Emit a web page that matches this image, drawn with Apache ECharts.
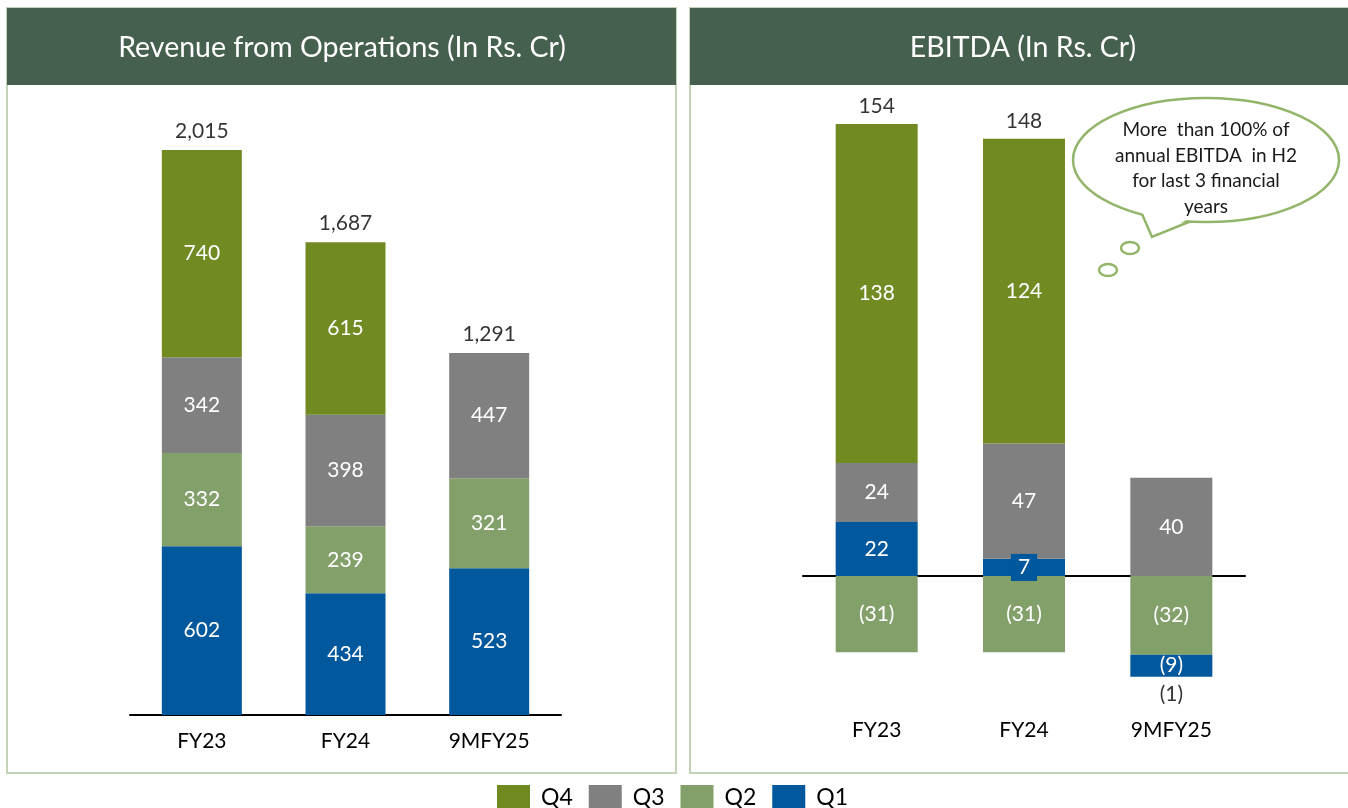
<!DOCTYPE html>
<html>
<head>
<meta charset="utf-8">
<script src="https://cdn.jsdelivr.net/npm/echarts@6/dist/echarts.min.js"></script>
<style>
html,body{margin:0;padding:0;background:#fff;}
#chart{width:1348px;height:808px;}
</style>
</head>
<body>
<div id="chart"></div>
<script>
const categories = ['FY23', 'FY24', '9MFY25'];
const quarterNames = ['Q4', 'Q3', 'Q2', 'Q1'];

// Revenue from Operations (In Rs. Cr)
const revQ1 = [602, 434, 523];
const revQ2 = [332, 239, 321];
const revQ3 = [342, 398, 447];
const revQ4 = [740, 615, null];
const revTotal = [2015, 1687, 1291];

// EBITDA (In Rs. Cr)
const ebQ1 = [22, 7, -9];
const ebQ2 = [-31, -31, -32];
const ebQ3 = [24, 47, 40];
const ebQ4 = [138, 124, null];
const ebTotal = [154, 148, -1];

const titles = ['Revenue from Operations (In Rs. Cr)', 'EBITDA (In Rs. Cr)'];
const noteLines = ['More  than 100% of', 'annual EBITDA  in H2', 'for last 3 financial', 'years'];

const colors = { Q4: '#718b22', Q3: '#808080', Q2: '#83a06b', Q1: '#02589c' };
const FONT = 'Lato';

function fmtNum(v) {
  if (v == null) return '';
  const s = Math.abs(v).toLocaleString('en-US');
  return v < 0 ? '(' + s + ')' : s;
}

function stackSeries(name, values, gridIdx, barW) {
  return {
    name: name,
    type: 'bar',
    stack: 'g' + gridIdx,
    xAxisIndex: gridIdx,
    yAxisIndex: gridIdx,
    barWidth: barW,
    itemStyle: { color: colors[name] },
    label: {
      show: true,
      position: 'inside',
      color: '#fff',
      fontFamily: FONT,
      fontSize: 21,
      formatter: p => fmtNum(p.value)
    },
    data: values.map(v => {
      if (v == null) return null;
      if (gridIdx === 1 && v > 0 && v < 10) {
        return { value: v, label: { backgroundColor: colors[name], padding: [3, 7, 3, 7] } };
      }
      return v;
    })
  };
}

const series = [];
[['Q1', revQ1], ['Q2', revQ2], ['Q3', revQ3], ['Q4', revQ4]].forEach(([n, d]) => series.push(stackSeries(n, d, 0, 80)));
// Q2 first so it sits right below zero; Q1 stays the first positive segment
[['Q2', ebQ2], ['Q1', ebQ1], ['Q3', ebQ3], ['Q4', ebQ4]].forEach(([n, d]) => series.push(stackSeries(n, d, 1, 82)));

// total labels
series.push({
  type: 'scatter', xAxisIndex: 0, yAxisIndex: 0, symbolSize: 0, silent: true,
  label: { show: true, position: 'top', distance: 8, color: '#000', fontFamily: FONT, fontSize: 21,
    formatter: p => fmtNum(p.value) },
  data: revTotal
});
const ebPos = categories.map((c, i) => [ebQ1, ebQ2, ebQ3, ebQ4].reduce((s, a) => s + (a[i] > 0 ? a[i] : 0), 0));
const ebNeg = categories.map((c, i) => [ebQ1, ebQ2, ebQ3, ebQ4].reduce((s, a) => s + (a[i] < 0 ? a[i] : 0), 0));
series.push({
  type: 'scatter', xAxisIndex: 1, yAxisIndex: 1, symbolSize: 0, silent: true,
  label: { show: true, color: '#000', fontFamily: FONT, fontSize: 21, formatter: p => p.data.txt },
  data: ebTotal.map((t, i) => ({
    value: t >= 0 ? ebPos[i] : ebNeg[i],
    txt: fmtNum(t),
    label: { position: t >= 0 ? 'top' : 'bottom', distance: 7 }
  }))
});

const graphics = [
  { type: 'rect', shape: { x: 7, y: 8, width: 669, height: 765 }, style: { fill: 'none', stroke: '#c3d3b5', lineWidth: 2 }, z: -10 },
  { type: 'rect', shape: { x: 690, y: 8, width: 662, height: 765 }, style: { fill: 'none', stroke: '#c3d3b5', lineWidth: 2 }, z: -10 },
  { type: 'rect', shape: { x: 7, y: 8, width: 669, height: 77 }, style: { fill: '#466050' } },
  { type: 'rect', shape: { x: 690, y: 8, width: 662, height: 77 }, style: { fill: '#466050' } },
  { type: 'text', x: 342, y: 48, style: { text: titles[0], fill: '#fff', font: '28.5px ' + FONT, textAlign: 'center', textVerticalAlign: 'middle' } },
  { type: 'text', x: 1023, y: 48, style: { text: titles[1], fill: '#fff', font: '28.5px ' + FONT, textAlign: 'center', textVerticalAlign: 'middle' } },
  // thought bubble
  { type: 'ellipse', shape: { cx: 1206, cy: 160, rx: 133, ry: 62 }, style: { fill: '#fff', stroke: '#93b56a', lineWidth: 2.5 }, z: 20 },
  { type: 'polygon', shape: { points: [[1140, 209], [1152, 236], [1193, 217]] }, style: { fill: '#fff' }, z: 21 },
  { type: 'polyline', shape: { points: [[1142, 214], [1152, 237], [1190, 221.5]] }, style: { stroke: '#93b56a', lineWidth: 2.5, fill: null }, z: 22 },
  { type: 'ellipse', shape: { cx: 1130, cy: 248, rx: 9, ry: 6 }, style: { fill: '#fff', stroke: '#93b56a', lineWidth: 2.5 }, z: 20 },
  { type: 'ellipse', shape: { cx: 1108, cy: 270, rx: 9, ry: 6 }, style: { fill: '#fff', stroke: '#93b56a', lineWidth: 2.5 }, z: 20 }
];
const noteY = [130, 156, 181, 207];
noteLines.forEach((t, i) => graphics.push({
  type: 'text', x: 1206, y: noteY[i], z: 23,
  style: { text: t, fill: '#1a1a1a', font: '19px ' + FONT, textAlign: 'center', textVerticalAlign: 'middle' }
}));

const axisX = (idx, margin) => ({
  type: 'category', gridIndex: idx, data: categories,
  axisLine: { show: true, onZero: true, lineStyle: { color: '#000', width: 2 } },
  axisTick: { show: false },
  axisLabel: { color: '#000', fontFamily: FONT, fontSize: 21, margin: margin }
});

const option = {
  animation: false,
  backgroundColor: '#fff',
  legend: {
    data: quarterNames,
    left: 492, top: 780,
    itemWidth: 33, itemHeight: 25, itemGap: 16,
    icon: 'rect',
    selectedMode: false,
    textStyle: { color: '#000', fontFamily: FONT, fontSize: 23, padding: [2, 0, 0, 6] }
  },
  grid: [
    { left: 130, width: 431, top: 150, height: 565 },
    { left: 803, width: 442, top: 124, height: 562.6 }
  ],
  xAxis: [axisX(0, 16), axisX(1, 33)],
  yAxis: [
    { type: 'value', gridIndex: 0, min: 0, max: 2015, show: false, splitLine: { show: false } },
    { type: 'value', gridIndex: 1, min: -45, max: 184, show: false, splitLine: { show: false } }
  ],
  graphic: graphics,
  series: series
};

const chart = echarts.init(document.getElementById('chart'), null, { renderer: 'canvas' });
chart.setOption(option);
</script>
</body>
</html>
